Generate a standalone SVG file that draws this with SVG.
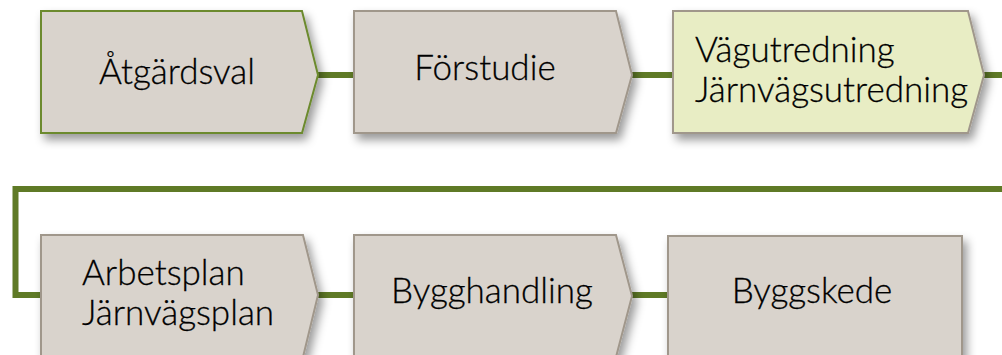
<svg xmlns="http://www.w3.org/2000/svg" width="1002" height="355" viewBox="0 0 1002 355">
<defs>
<filter id="sh" x="-10%" y="-10%" width="130%" height="140%">
<feDropShadow dx="4" dy="6" stdDeviation="5" flood-color="#000" flood-opacity="0.4"/>
</filter>
<style>
.box{fill:#d9d3cc;stroke:#a0978b;stroke-width:2;filter:url(#sh)}
.hl{fill:#e8edc4}
.gr{stroke:#6c8a2e}
.lbl{font-family:Lato,"Open Sans",sans-serif;font-size:35px;font-weight:300;fill:#000;stroke:#000;stroke-width:0.3}
.con{fill:none;stroke:#5f7a26;stroke-width:6}
</style>
</defs>
<rect width="1002" height="355" fill="#fff"/>
<g id="connectors">
<line class="con" x1="316" y1="75" x2="356" y2="75"/>
<line class="con" x1="630" y1="75" x2="675" y2="75"/>
<line class="con" x1="982" y1="75" x2="1002" y2="75"/>
<polyline class="con" points="1002,189 15.5,189 15.5,295 43,295"/>
<line class="con" x1="316" y1="295" x2="356" y2="295"/>
<line class="con" x1="630" y1="295" x2="670" y2="295"/>
</g>
<g id="n1">
<path class="box gr" d="M41,11 H302 L318,75 L302,133 H41 Z"/>
<text class="lbl" x="177" y="84" text-anchor="middle">Åtgärdsval</text>
</g>
<g id="n2">
<path class="box" d="M354,11 H616 L632,75 L616,133 H354 Z"/>
<text class="lbl" x="485" y="80" text-anchor="middle">Förstudie</text>
</g>
<g id="n3">
<path class="box hl" d="M673,11 H968 L984,75 L968,133 H673 Z"/>
<text class="lbl" x="695" y="62">Vägutredning</text>
<text class="lbl" x="695" y="102">Järnvägsutredning</text>
</g>
<g id="n4">
<path class="box" d="M41,235 H303 L318,295 L303,357 H41 Z"/>
<text class="lbl" x="82" y="285">Arbetsplan</text>
<text class="lbl" x="82" y="325">Järnvägsplan</text>
</g>
<g id="n5">
<path class="box" d="M354,235 H616 L632,296 L616,357 H354 Z"/>
<text class="lbl" x="492" y="303" text-anchor="middle">Bygghandling</text>
</g>
<g id="n6">
<rect class="box" x="668" y="236" width="294" height="122"/>
<text class="lbl" x="812" y="303" text-anchor="middle">Byggskede</text>
</g>
</svg>
